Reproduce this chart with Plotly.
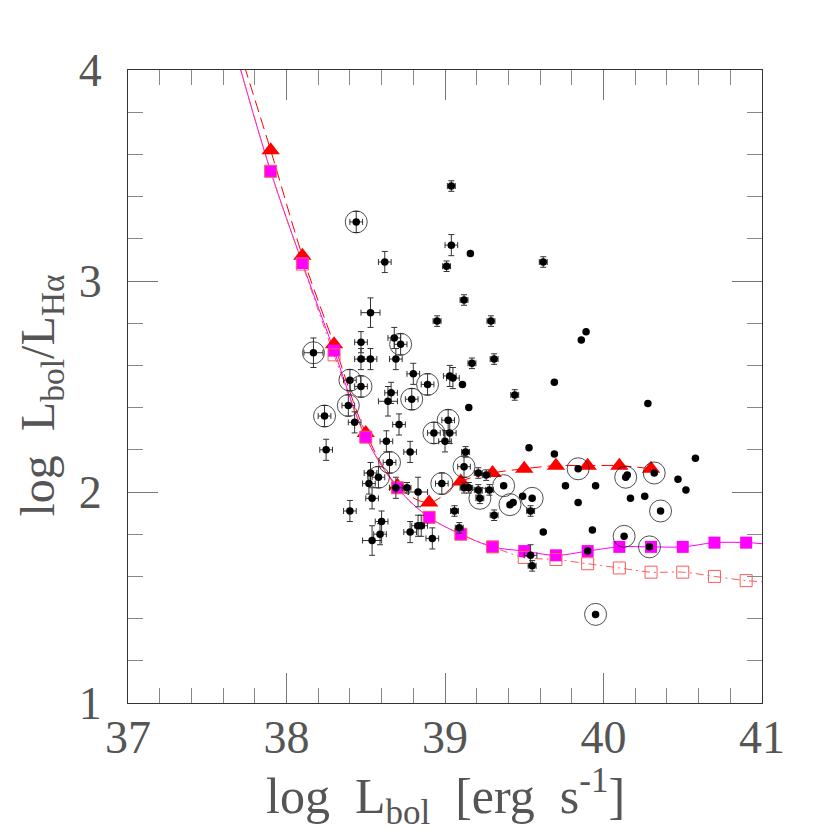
import plotly.graph_objects as go

# observed objects: log Lbol and log Lbol/LHa
obs_x = [38.44, 38.62, 38.53, 38.17, 38.47, 38.47, 38.53, 38.68, 38.72, 38.69,
         38.80, 38.95, 39.04, 39.04, 39.16, 39.01, 39.62, 39.12, 39.29, 39.89,
         39.86, 39.17, 39.31, 39.03, 39.05, 39.11, 38.40, 38.47, 38.89, 38.66,
         38.79, 39.44, 38.64, 38.24, 38.39, 38.43, 38.71, 39.15, 38.93, 39.02,
         39.03, 39.00, 38.25, 38.63, 38.78, 39.13, 39.12, 38.65, 38.53, 38.58,
         38.52, 38.54, 38.69, 38.76, 38.83, 38.98, 39.21, 39.26, 39.12, 39.15,
         39.21, 39.22, 39.28, 39.37, 39.43, 39.41, 39.31, 39.06, 38.40, 38.60,
         38.59, 38.54, 38.78, 38.83, 38.85, 38.92, 39.09, 39.53, 39.69, 39.76,
         39.49, 39.55, 39.54, 39.62, 39.69, 40.28, 40.58, 39.84, 40.14, 40.15,
         40.32, 40.47, 40.52, 39.95, 39.84, 40.17, 40.26, 40.36, 39.93, 40.13,
         40.29, 39.90, 39.54, 39.55, 39.95]
obs_y = [3.28, 3.09, 2.85, 2.66, 2.71, 2.63, 2.63, 2.73, 2.70, 2.63,
         2.56, 2.81, 3.45, 3.17, 3.13, 3.07, 3.09, 2.91, 2.81, 2.76,
         2.72, 2.61, 2.63, 2.55, 2.54, 2.51, 2.53, 2.50, 2.51, 2.47,
         2.44, 2.46, 2.43, 2.36, 2.41, 2.33, 2.32, 2.40, 2.28, 2.34,
         2.28, 2.24, 2.20, 2.24, 2.19, 2.19, 2.12, 2.14, 2.09, 2.07,
         2.04, 1.97, 2.02, 2.02, 2.00, 2.04, 2.09, 2.08, 2.02, 2.02,
         2.01, 1.97, 2.01, 2.03, 1.95, 1.94, 1.89, 1.91, 1.91, 1.86,
         1.80, 1.77, 1.81, 1.84, 1.84, 1.78, 1.83, 2.21, 2.18, 2.03,
         1.98, 1.97, 1.91, 1.81, 2.52, 2.42, 2.16, 2.11, 2.07, 2.08,
         2.09, 2.06, 2.01, 2.03, 1.95, 1.97, 1.98, 1.91, 1.82, 1.79,
         1.74, 1.72, 1.70, 1.65, 1.42]
# error class per object: N none, s small, E normal, B big
obs_err = ["E", "E", "B", "B", "E", "E", "E", "E", "E", "E",
           "E", "s", "s", "E", "N", "s", "s", "s", "s", "N",
           "N", "s", "s", "E", "E", "N", "E", "E", "E", "E",
           "E", "s", "B", "E", "E", "E", "E", "N", "E", "E",
           "E", "E", "E", "E", "E", "s", "E", "E", "E", "E",
           "E", "E", "E", "s", "B", "E", "s", "s", "s", "s",
           "s", "s", "s", "N", "N", "N", "s", "s", "E", "E",
           "E", "B", "E", "E", "E", "E", "s", "N", "N", "N",
           "N", "N", "s", "N", "N", "N", "N", "N", "N", "N",
           "N", "N", "N", "N", "N", "N", "N", "N", "N", "N",
           "N", "N", "E", "s", "N"]
err_x = {"N": 0.0, "s": 0.025, "E": 0.04, "B": 0.06}
err_y = {"N": 0.0, "s": 0.025, "E": 0.05, "B": 0.07}
# objects marked with an open circle
obs_ring = [1, 0, 0, 1, 0, 0, 0, 0, 1, 0,
            0, 0, 0, 0, 0, 0, 0, 0, 0, 0,
            0, 0, 0, 0, 0, 0, 1, 1, 1, 0,
            1, 0, 0, 1, 1, 0, 0, 0, 1, 1,
            0, 0, 0, 0, 0, 0, 1, 1, 0, 1,
            0, 0, 0, 0, 0, 1, 0, 0, 0, 0,
            0, 1, 0, 1, 0, 1, 0, 0, 0, 0,
            0, 0, 0, 0, 0, 0, 0, 0, 0, 0,
            0, 1, 0, 0, 0, 0, 0, 1, 1, 0,
            1, 0, 0, 0, 0, 0, 0, 1, 0, 1,
            1, 0, 0, 0, 1]

# model tracks
mod_x = [37.9, 38.1, 38.3, 38.5, 38.7, 38.9, 39.1, 39.3,
         39.5, 39.7, 39.9, 40.1, 40.3, 40.5, 40.7, 40.9]
tri_y = [3.62, 3.12, 2.70, 2.28, 2.03, 1.95, 2.05, 2.09,
         2.11, 2.125, 2.125, 2.125, 2.11]
sq_y = [3.52, 3.085, 2.67, 2.26, 2.02, 1.88, 1.80, 1.74,
        1.72, 1.70, 1.72, 1.74, 1.74, 1.74, 1.76, 1.76]
open_y = [3.52, 3.08, 2.65, 2.26, 2.02, 1.88, 1.80, 1.74,
          1.69, 1.68, 1.66, 1.64, 1.62, 1.62, 1.60, 1.58]
# where the curves leave the frame
tri_start = (37.70, 4.10)
sq_start = (37.70, 4.03)
sq_end = (41.0, 1.755)
open_end = (41.0, 1.575)

RED = "#ff0000"
MAG = "#ff00ff"
PINK = "#ff5a5a"
FONT = "Liberation Serif"
SP = "&nbsp;&nbsp;"

fig = go.Figure()

tri_x = mod_x[:len(tri_y)]
fig.add_trace(go.Scatter(
    x=[tri_start[0]] + tri_x, y=[tri_start[1]] + tri_y,
    mode="lines", line=dict(color=RED, width=1, dash="12px,6px", shape="spline"),
    hoverinfo="skip"))
fig.add_trace(go.Scatter(
    x=[sq_start[0]] + mod_x + [sq_end[0]], y=[sq_start[1]] + sq_y + [sq_end[1]],
    mode="lines", line=dict(color=MAG, width=1, shape="spline"),
    hoverinfo="skip"))
fig.add_trace(go.Scatter(
    x=[sq_start[0]] + mod_x + [open_end[0]], y=[sq_start[1]] + open_y + [open_end[1]],
    mode="lines", line=dict(color=PINK, width=1, dash="8px,4px,2px,4px", shape="spline"),
    hoverinfo="skip"))

fig.add_trace(go.Scatter(
    x=tri_x, y=tri_y, mode="markers",
    marker=dict(symbol="triangle-up", size=16, color=RED, line=dict(width=0))))
fig.add_trace(go.Scatter(
    x=mod_x, y=sq_y, mode="markers",
    marker=dict(symbol="square", size=12, color=MAG, line=dict(width=0))))
fig.add_trace(go.Scatter(
    x=mod_x, y=open_y, mode="markers",
    marker=dict(symbol="square-open", size=12, color=PINK, line=dict(width=1))))

# data points with error bars
fig.add_trace(go.Scatter(
    x=obs_x, y=obs_y, mode="markers",
    marker=dict(symbol="circle", size=7.5, color="black"),
    error_x=dict(type="data", array=[err_x[c] for c in obs_err],
                 color="#333333", thickness=1, width=3),
    error_y=dict(type="data", array=[err_y[c] for c in obs_err],
                 color="#333333", thickness=1, width=3)))

ring_x = [xv for xv, r in zip(obs_x, obs_ring) if r]
ring_y = [yv for yv, r in zip(obs_y, obs_ring) if r]
fig.add_trace(go.Scatter(
    x=ring_x, y=ring_y, mode="markers",
    marker=dict(symbol="circle-open", size=22, color="#222222", line=dict(width=0.8))))

axis_common = dict(
    showgrid=False, zeroline=False, showline=True, linecolor="#333333", linewidth=1,
    mirror="ticks", ticks="inside", ticklen=30, tickcolor="#777777", tickwidth=1,
    automargin=False,
    tickfont=dict(family=FONT, size=46, color="#555555"),
    minor=dict(ticks="inside", ticklen=15, dtick=0.2, tickcolor="#888888", showgrid=False),
)

# the page adds an 8px body margin, so the frame is shifted by that much
fig.update_layout(
    width=830, height=830,
    margin=dict(l=120, r=76, t=62, b=135),
    paper_bgcolor="white", plot_bgcolor="white",
    showlegend=False,
    xaxis=dict(range=[37, 41], dtick=1, tick0=37, ticklabelstandoff=-6, **axis_common),
    yaxis=dict(range=[1, 4], dtick=1, tick0=1, ticklabelstandoff=16, **axis_common),
    annotations=[
        dict(text="log" + SP + "L<sub>bol</sub>" + SP + "[erg" + SP + "s<sup>-1</sup>]",
             xref="paper", yref="paper", x=0.5, y=-0.148, xanchor="center", yanchor="middle",
             showarrow=False, font=dict(family=FONT, size=50, color="#555555")),
        dict(text="log" + SP + "L<sub>bol</sub>/L<sub>Hα</sub>",
             xref="paper", yref="paper", x=-0.138, y=0.485, xanchor="center", yanchor="middle",
             textangle=-90, showarrow=False, font=dict(family=FONT, size=48, color="#555555")),
    ],
)

fig.write_html("out.html")
